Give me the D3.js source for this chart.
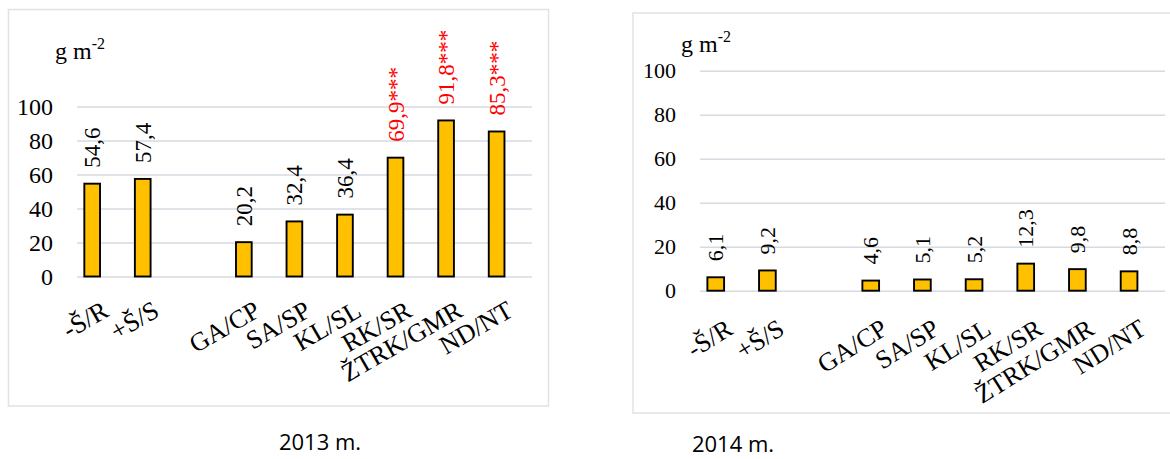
<!DOCTYPE html>
<html>
<head>
<meta charset="utf-8">
<script src="https://cdn.jsdelivr.net/npm/d3@7/dist/d3.min.js"></script>
<style>
  html, body { margin: 0; padding: 0; background: #ffffff; }
  svg { display: block; }
</style>
</head>
<body>
<svg id="chart" width="1170" height="459"></svg>
<script>
// ---- data ----
const categories = ["-Š/R", "+Š/S", "", "GA/CP", "SA/SP", "KL/SL", "RK/SR", "ŽTRK/GMR", "ND/NT"];
const values2013 = [54.6, 57.4, null, 20.2, 32.4, 36.4, 69.9, 91.8, 85.3];
const signif2013 = ["", "", "", "", "", "", "***", "***", "***"];
const values2014 = [6.1, 9.2, null, 4.6, 5.1, 5.2, 12.3, 9.8, 8.8];
const signif2014 = ["", "", "", "", "", "", "", "", ""];
const yTicks = [0, 20, 40, 60, 80, 100];
const unitLabel = "g m";
const unitSup = "-2";
const titles = ["2013 m.", "2014 m."];

const SERIF = '"Liberation Serif", "Times New Roman", Times, serif';
const SANS = '"Open Sans", "Liberation Sans", Arial, sans-serif';

const svg = d3.select("#chart");

const panels = [
  { values: values2013, signif: signif2013, title: titles[0],
    box: [8.5, 9.5, 548.5, 406], x0: 77, x1: 532, yBottom: 276.5, yTop: 106.5,
    barW: 15.7, barShift: -10.1, tickFont: 24, valFont: 23, catFont: 26, catAngle: -30,
    catDx: 9, catDy: 23, unitX: 55, unitY: 59, titleX: 320, titleY: 450 },
  { values: values2014, signif: signif2014, title: titles[1],
    box: [633, 13, 1180, 413], x0: 700, x1: 1165, yBottom: 290.7, yTop: 70.7,
    barW: 16.7, barShift: -10.1, tickFont: 22, valFont: 22, catFont: 26, catAngle: -32,
    catDx: 9, catDy: 27, unitX: 681, unitY: 52, titleX: 733, titleY: 452 }
];

const fmt = v => String(v).replace(".", ",");

panels.forEach(p => {
  const g = svg.append("g");
  // frame
  g.append("rect")
    .attr("x", p.box[0]).attr("y", p.box[1])
    .attr("width", p.box[2] - p.box[0]).attr("height", p.box[3] - p.box[1])
    .attr("fill", "#ffffff").attr("stroke", "#dfe2e7").attr("stroke-width", 1.5);

  const x = d3.scaleBand().domain(d3.range(categories.length)).range([p.x0, p.x1]).padding(0);
  const y = d3.scaleLinear().domain([0, 100]).range([p.yBottom, p.yTop]);

  // gridlines
  const grid = g.append("g").attr("transform", `translate(${p.x0},0)`)
    .call(d3.axisLeft(y).tickValues(yTicks).tickSize(-(p.x1 - p.x0)).tickFormat(""));
  grid.select(".domain").remove();
  grid.selectAll("line").attr("stroke", "#d6dae1").attr("stroke-width", 1.5);

  // y tick labels
  const ya = g.append("g").attr("transform", `translate(${p.x0},0)`)
    .call(d3.axisLeft(y).tickValues(yTicks).tickSize(0).tickPadding(24));
  ya.attr("font-family", null).attr("font-size", null);
  ya.select(".domain").remove();
  ya.selectAll("text")
    .style("font-family", SERIF).style("font-size", p.tickFont + "px")
    .attr("fill", "#000");

  // unit label
  const u = g.append("text").attr("x", p.unitX).attr("y", p.unitY)
    .style("font-family", SERIF).style("font-size", "24px").attr("fill", "#000");
  u.append("tspan").text(unitLabel);
  u.append("tspan").style("font-size", "16px").attr("dy", -10).text(unitSup);

  const idx = d3.range(categories.length).filter(i => p.values[i] != null);
  const cx = i => x(i) + x.bandwidth() / 2 + p.barShift;

  // bars
  g.selectAll("rect.bar").data(idx).join("rect").attr("class", "bar")
    .attr("x", i => cx(i) - p.barW / 2)
    .attr("y", i => y(p.values[i]))
    .attr("width", p.barW)
    .attr("height", i => y(0) - y(p.values[i]))
    .attr("fill", "#FFC000").attr("stroke", "#000").attr("stroke-width", 1.9);

  // value labels (rotated)
  g.selectAll("text.val").data(idx).join("text").attr("class", "val")
    .attr("transform", i => `translate(${cx(i)},${y(p.values[i]) - 16}) rotate(-90)`)
    .attr("dy", "0.35em")
    .attr("text-anchor", "start")
    .style("font-family", SERIF).style("font-size", p.valFont + "px")
    .attr("fill", i => p.signif[i] ? "#FF0000" : "#000")
    .text(i => fmt(p.values[i]) + p.signif[i]);

  // category labels
  g.selectAll("text.cat").data(idx).join("text").attr("class", "cat")
    .attr("transform", i => `translate(${cx(i) + p.catDx},${y(0) + p.catDy}) rotate(${p.catAngle})`)
    .attr("dy", "0.7em")
    .attr("text-anchor", "end")
    .style("font-family", SERIF).style("font-size", p.catFont + "px")
    .attr("fill", "#000")
    .text(i => categories[i]);

  // title
  g.append("text").attr("x", p.titleX).attr("y", p.titleY)
    .attr("text-anchor", "middle")
    .style("font-family", SANS).style("font-size", "22px")
    .attr("fill", "#000")
    .text(p.title);
});
</script>
</body>
</html>
